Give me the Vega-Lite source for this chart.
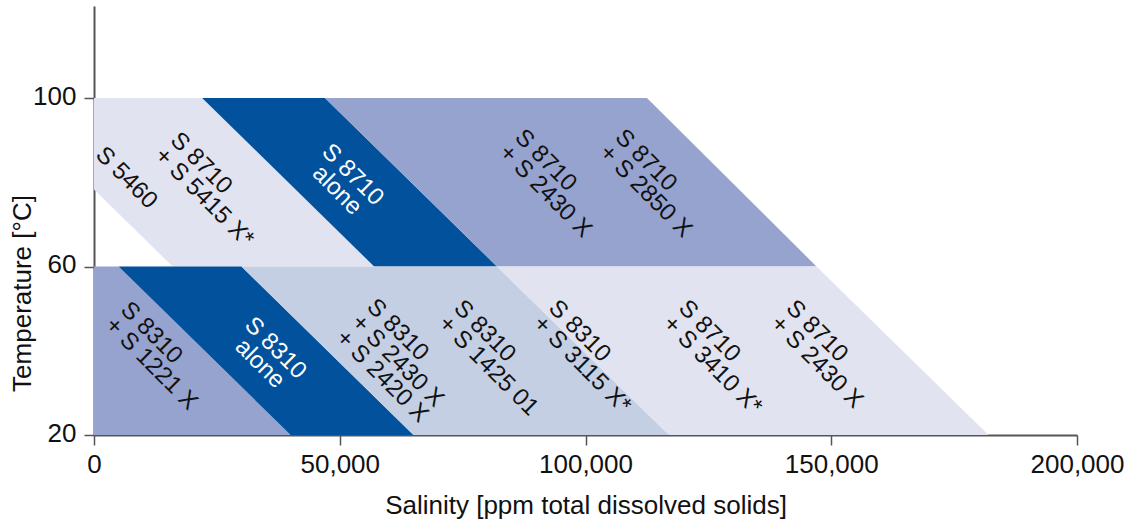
{
  "$schema": "https://vega.github.io/schema/vega-lite/v6.json",
  "width": 983,
  "height": 429,
  "autosize": {"type": "none"},
  "padding": {"left": 94, "top": 6, "right": 52, "bottom": 86},
  "background": "white",
  "config": {
    "view": {"stroke": null},
    "font": "Liberation Sans",
    "axis": {
      "grid": false,
      "domainColor": "#555555",
      "domainWidth": 2,
      "tickColor": "#555555",
      "tickWidth": 1.5,
      "tickSize": 10,
      "labelFont": "Liberation Sans",
      "titleFont": "Liberation Sans",
      "labelFontSize": 26,
      "titleFontSize": 26,
      "titleFontWeight": "normal",
      "labelColor": "#111111",
      "titleColor": "#111111",
      "labelFlush": false,
      "labelOverlap": false
    }
  },
  "datasets": {
    "bands": [
      {"band": "T1", "shade": "lightest", "t": 60, "s1": 16000, "s2": 57000},
      {"band": "T1", "shade": "lightest", "t": 78.3, "s1": 0, "s2": 41000},
      {"band": "T1", "shade": "lightest", "t": 100, "s1": 0, "s2": 22000},
      {"band": "T2", "shade": "dark", "t": 60, "s1": 57000, "s2": 82000},
      {"band": "T2", "shade": "dark", "t": 100, "s1": 22000, "s2": 47000},
      {"band": "T3", "shade": "medium", "t": 60, "s1": 82000, "s2": 147000},
      {"band": "T3", "shade": "medium", "t": 100, "s1": 47000, "s2": 112500},
      {"band": "B1", "shade": "medium", "t": 20, "s1": 0, "s2": 40000},
      {"band": "B1", "shade": "medium", "t": 60, "s1": 0, "s2": 5000},
      {"band": "B2", "shade": "dark", "t": 20, "s1": 40000, "s2": 65000},
      {"band": "B2", "shade": "dark", "t": 60, "s1": 5000, "s2": 30000},
      {"band": "B3", "shade": "light", "t": 20, "s1": 65000, "s2": 117000},
      {"band": "B3", "shade": "light", "t": 60, "s1": 30000, "s2": 82000},
      {"band": "B4", "shade": "lightest", "t": 20, "s1": 117000, "s2": 182000},
      {"band": "B4", "shade": "lightest", "t": 60, "s1": 82000, "s2": 147000}
    ],
    "labels": [
      {"s": 1100, "t": 87.4, "text": ["S 5460"]},
      {"s": 16300, "t": 90.85, "text": ["\u2007 S 8710", "+ S 5415 X*"]},
      {"s": 86390, "t": 91.55, "text": ["\u2007 S 8710", "+ S 2430 X"]},
      {"s": 106790, "t": 91.55, "text": ["\u2007 S 8710", "+ S 2850 X"]},
      {"s": 6200, "t": 50.6, "text": ["\u2007 S 8310", "+ S 1221 X"]},
      {"s": 56300, "t": 51.3, "text": ["\u2007 S 8310", "+ S 2430 X", "+ S 2420 X"]},
      {"s": 74000, "t": 51.0, "text": ["\u2007 S 8310", "+ S 1425 01"]},
      {"s": 93300, "t": 51.0, "text": ["\u2007 S 8310", "+ S 3115 X*"]},
      {"s": 119700, "t": 51.0, "text": ["\u2007 S 8710", "+ S 3410 X*"]},
      {"s": 141600, "t": 51.0, "text": ["\u2007 S 8710", "+ S 2430 X"]}
    ],
    "alone": [
      {"s": 52590, "t": 81.75, "text": ["S 8710", "alone"]},
      {"s": 36900, "t": 40.6, "text": ["S 8310", "alone"]}
    ]
  },
  "layer": [
    {
      "data": {"name": "bands"},
      "mark": {"type": "area", "orient": "horizontal", "interpolate": "linear"},
      "encoding": {
        "y": {
          "field": "t", "type": "quantitative",
          "scale": {"domain": [20, 121.84], "nice": false, "zero": false},
          "title": "Temperature [°C]",
          "axis": {
            "values": [20, 60, 100],
            "format": "d",
            "labelBaseline": "alphabetic",
            "labelOffset": 6,
            "labelPadding": 8,
            "titleX": -64,
            "titleY": 287,
            "titleAngle": -90,
            "titleAlign": "center",
            "titleBaseline": "alphabetic"
          }
        },
        "x": {
          "field": "s1", "type": "quantitative", "stack": null,
          "scale": {"domain": [0, 200000], "nice": false},
          "title": "Salinity [ppm total dissolved solids]",
          "axis": {
            "values": [0, 50000, 100000, 150000, 200000],
            "format": ",d",
            "labelBaseline": "alphabetic",
            "labelPadding": 27,
            "titleY": 78,
            "titleBaseline": "alphabetic"
          }
        },
        "x2": {"field": "s2"},
        "detail": {"field": "band"},
        "color": {
          "field": "shade", "type": "nominal", "legend": null,
          "scale": {
            "domain": ["dark", "medium", "light", "lightest"],
            "range": ["#02519c", "#96a3cf", "#c5cfe4", "#e1e4f0"]
          }
        }
      }
    },
    {
      "data": {"name": "labels"},
      "mark": {"type": "text", "angle": 45, "align": "left", "baseline": "middle", "fontSize": 24, "lineHeight": 22, "color": "#111111", "font": "Liberation Sans"},
      "encoding": {
        "x": {
          "field": "s", "type": "quantitative",
          "title": "Salinity [ppm total dissolved solids]",
          "axis": {
            "values": [0, 50000, 100000, 150000, 200000],
            "format": ",d",
            "labelBaseline": "alphabetic",
            "labelPadding": 27,
            "titleY": 78,
            "titleBaseline": "alphabetic"
          }
        },
        "y": {
          "field": "t", "type": "quantitative",
          "title": "Temperature [°C]",
          "axis": {
            "values": [20, 60, 100],
            "format": "d",
            "labelBaseline": "alphabetic",
            "labelOffset": 6,
            "labelPadding": 8,
            "titleX": -64,
            "titleY": 287,
            "titleAngle": -90,
            "titleAlign": "center",
            "titleBaseline": "alphabetic"
          }
        },
        "text": {"field": "text"}
      }
    },
    {
      "data": {"name": "alone"},
      "mark": {"type": "text", "angle": 45, "align": "center", "baseline": "middle", "fontSize": 24, "lineHeight": 22, "color": "#ffffff", "font": "Liberation Sans"},
      "encoding": {
        "x": {
          "field": "s", "type": "quantitative",
          "title": "Salinity [ppm total dissolved solids]",
          "axis": {
            "values": [0, 50000, 100000, 150000, 200000],
            "format": ",d",
            "labelBaseline": "alphabetic",
            "labelPadding": 27,
            "titleY": 78,
            "titleBaseline": "alphabetic"
          }
        },
        "y": {
          "field": "t", "type": "quantitative",
          "title": "Temperature [°C]",
          "axis": {
            "values": [20, 60, 100],
            "format": "d",
            "labelBaseline": "alphabetic",
            "labelOffset": 6,
            "labelPadding": 8,
            "titleX": -64,
            "titleY": 287,
            "titleAngle": -90,
            "titleAlign": "center",
            "titleBaseline": "alphabetic"
          }
        },
        "text": {"field": "text"}
      }
    }
  ]
}
